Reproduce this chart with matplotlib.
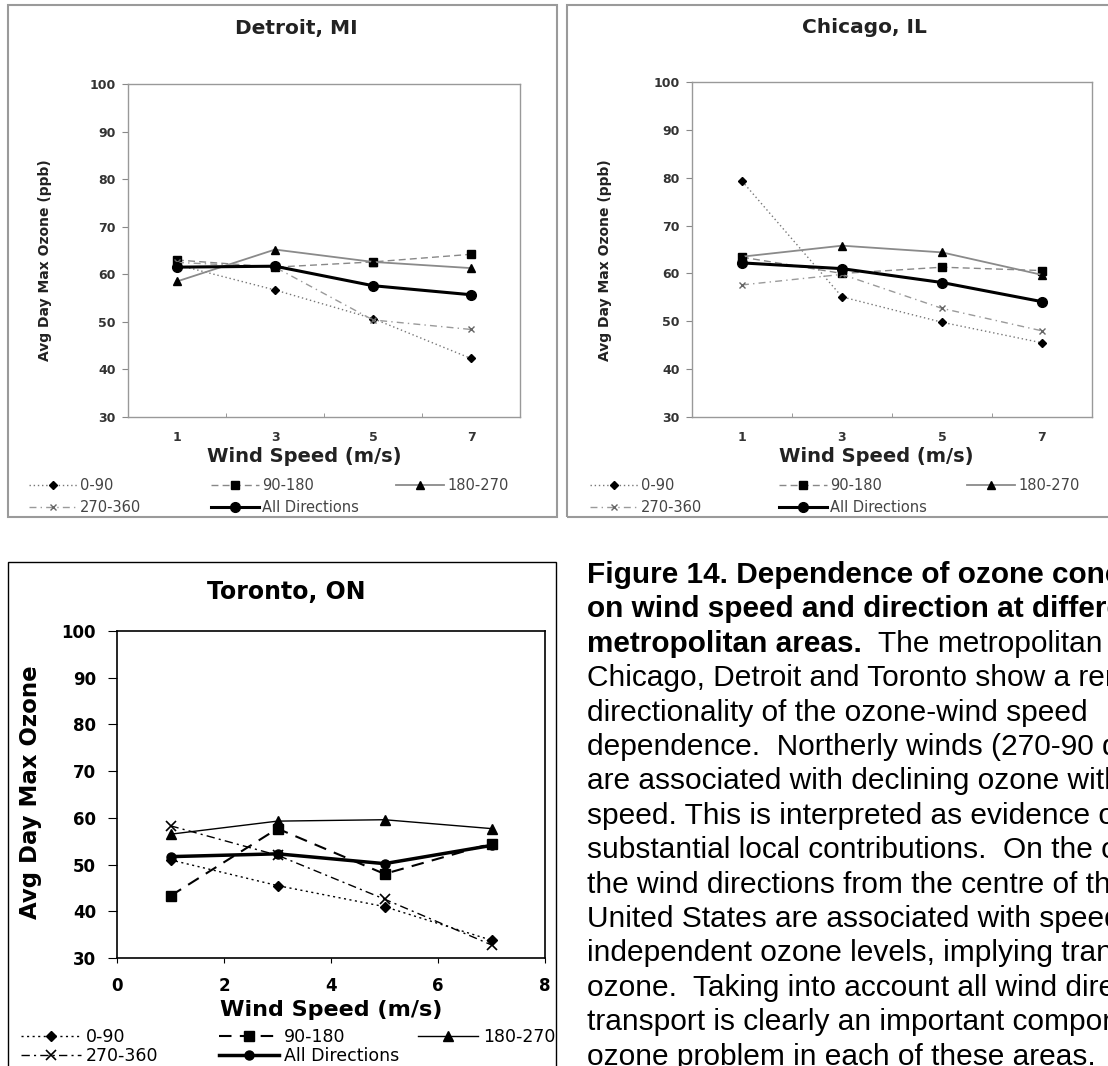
import matplotlib
matplotlib.use('Agg')
import matplotlib.pyplot as plt
from matplotlib.patches import Rectangle

plt.rcParams['font.family'] = 'DejaVu Sans'

# wind speed bins (m/s) and direction sectors
speeds = [1, 3, 5, 7]
directions = ['0-90', '90-180', '180-270', '270-360', 'All Directions']

# Avg day max ozone (ppb)
detroit_0_90 = [62.0, 56.7, 50.7, 42.3]
detroit_90_180 = [63.0, 61.5, 62.6, 64.2]
detroit_180_270 = [58.5, 65.2, 62.6, 61.3]
detroit_270_360 = [62.5, 61.5, 50.4, 48.4]
detroit_all = [61.5, 61.7, 57.6, 55.7]

chicago_0_90 = [79.3, 55.1, 49.8, 45.5]
chicago_90_180 = [63.4, 60.0, 61.3, 60.6]
chicago_180_270 = [63.5, 65.8, 64.4, 59.7]
chicago_270_360 = [57.6, 59.8, 52.7, 48.0]
chicago_all = [62.2, 61.0, 58.1, 54.1]

toronto_0_90 = [51.0, 45.5, 41.0, 33.8]
toronto_90_180 = [43.3, 57.7, 48.0, 54.5]
toronto_180_270 = [56.5, 59.3, 59.6, 57.7]
toronto_270_360 = [58.3, 52.0, 42.6, 32.8]
toronto_all = [51.7, 52.3, 50.2, 54.1]

caption_bold = ["Figure 14. Dependence of ozone conc",
                "on wind speed and direction at differe",
                "metropolitan areas."]
caption_after_bold = "  The metropolitan a"
caption_lines = ["Chicago, Detroit and Toronto show a rem",
                 "directionality of the ozone-wind speed",
                 "dependence.  Northerly winds (270-90 d",
                 "are associated with declining ozone with",
                 "speed. This is interpreted as evidence o",
                 "substantial local contributions.  On the o",
                 "the wind directions from the centre of th",
                 "United States are associated with speed",
                 "independent ozone levels, implying tran",
                 "ozone.  Taking into account all wind dire",
                 "transport is clearly an important compon",
                 "ozone problem in each of these areas."]

W, H = 1108, 1066


def box(left, top, right, bottom):
    return [left / W, 1 - bottom / H, (right - left) / W, (bottom - top) / H]


fig = plt.figure(figsize=(W / 100, H / 100), dpi=100)

# panel frames
fig.add_artist(Rectangle((8 / W, 1 - 517 / H), 549 / W, 512 / H, transform=fig.transFigure,
                         fill=False, ec='#9a9a9a', lw=1.5))
fig.add_artist(Rectangle((567 / W, 1 - 517 / H), 560 / W, 512 / H, transform=fig.transFigure,
                         fill=False, ec='#9a9a9a', lw=1.5))
fig.add_artist(Rectangle((8 / W, 1 - 1080 / H), 548 / W, 518 / H, transform=fig.transFigure,
                         fill=False, ec='k', lw=1))

top_styles = [
    dict(ls=(0, (1, 2)), color='#777777', lw=1, marker='D', ms=4, mfc='k', mec='k'),
    dict(ls=(0, (5, 3)), color='#888888', lw=1, marker='s', ms=5.5, mfc='k', mec='k'),
    dict(ls='-', color='#8a8a8a', lw=1.3, marker='^', ms=5.5, mfc='k', mec='k'),
    dict(ls=(0, (5, 3, 1, 3)), color='#9a9a9a', lw=1, marker='x', ms=5, mec='#666666', mew=1),
    dict(ls='-', color='k', lw=2.2, marker='o', ms=7, mfc='k', mec='k'),
]

tor_styles = [
    dict(ls=(0, (1.5, 2.5)), color='k', lw=1, marker='D', ms=5.5),
    dict(ls=(0, (6, 4)), color='k', lw=1.5, marker='s', ms=6.5),
    dict(ls='-', color='k', lw=1, marker='^', ms=7.5),
    dict(ls=(0, (6, 3, 1.5, 3)), color='k', lw=1, marker='x', ms=7, mew=1.2),
    dict(ls='-', color='k', lw=2.5, marker='o', ms=6.5),
]

col_groups = [[0, 3], [1, 4], [2]]


def add_legends(lines, col_x, top, size, hl, tp, ls, color):
    for x, idx in zip(col_x, col_groups):
        leg = fig.legend([lines[i] for i in idx], [directions[i] for i in idx],
                         loc='upper left', bbox_to_anchor=(x / W, 1 - top / H),
                         frameon=False, borderpad=0, borderaxespad=0,
                         handlelength=hl, handletextpad=tp, labelspacing=ls,
                         fontsize=size)
        for t in leg.get_texts():
            t.set_color(color)


def small_panel(rect, title, series, title_x, title_y, xlab_x, ylab_x, ylab_y, col_x):
    ax = fig.add_axes(rect)
    lines = []
    for vals, st, name in zip(series, top_styles, directions):
        ln, = ax.plot(speeds, vals, label=name, **st)
        lines.append(ln)
    ax.set_xlim(0, 8)
    ax.set_ylim(30, 100)
    ax.set_yticks(range(30, 101, 10))
    ax.set_xticks(speeds)
    ax.set_xticks([2, 4, 6], minor=True)
    ax.tick_params(axis='x', which='major', length=0, pad=10, labelsize=9, labelcolor='#333333')
    ax.tick_params(axis='x', which='minor', direction='in', length=3, color='#888888')
    ax.tick_params(axis='y', direction='out', length=4, pad=5, color='#888888',
                   labelsize=9, labelcolor='#333333')
    for lab in ax.get_xticklabels() + ax.get_yticklabels():
        lab.set_fontweight('bold')
    for sp in ax.spines.values():
        sp.set_color('#999999')
        sp.set_linewidth(1)
    ax.set_title(title, x=title_x, y=title_y, va='center', pad=0, fontsize=14.5,
                 fontweight='bold', color='#222222')
    ax.set_xlabel('Wind Speed (m/s)', fontsize=14, fontweight='bold', color='#222222')
    ax.xaxis.set_label_coords(xlab_x, -0.09)
    ax.set_ylabel('Avg Day Max Ozone (ppb)', fontsize=10, fontweight='bold', color='#222222')
    ax.yaxis.set_label_coords(ylab_x, ylab_y)
    add_legends(lines, col_x, 478, 10.5, 3.3, 0.2, 0.5, '#444444')
    return ax


small_panel(box(128, 84, 520, 417), 'Detroit, MI',
            [detroit_0_90, detroit_90_180, detroit_180_270, detroit_270_360, detroit_all],
            0.43, 1.168, 0.45, -0.194, 0.471, [29, 211, 396])
small_panel(box(692, 82, 1092, 417), 'Chicago, IL',
            [chicago_0_90, chicago_90_180, chicago_180_270, chicago_270_360, chicago_all],
            0.43, 1.164, 0.46, -0.2, 0.469, [590, 779, 967])

# Toronto panel
ax = fig.add_axes(box(117, 631, 545, 958))
tor_series = [toronto_0_90, toronto_90_180, toronto_180_270, toronto_270_360, toronto_all]
tor_lines = []
for vals, st, name in zip(tor_series, tor_styles, directions):
    ln, = ax.plot(speeds, vals, label=name, **st)
    tor_lines.append(ln)
ax.set_xlim(0, 8)
ax.set_ylim(30, 100)
ax.set_xticks(range(0, 9, 2))
ax.set_yticks(range(30, 101, 10))
ax.tick_params(axis='x', direction='out', length=3.5, pad=10, labelsize=12)
ax.tick_params(axis='y', direction='out', length=6.5, pad=8.5, labelsize=12)
for lab in ax.get_xticklabels() + ax.get_yticklabels():
    lab.set_fontweight('bold')
for sp in ax.spines.values():
    sp.set_linewidth(1.2)
ax.set_title('Toronto, ON', x=0.395, y=1.119, va='center', pad=0, fontsize=17, fontweight='bold')
ax.set_xlabel('Wind Speed (m/s)', fontsize=16, fontweight='bold')
ax.xaxis.set_label_coords(0.5, -0.128)
ax.set_ylabel('Avg Day Max Ozone', fontsize=16.5, fontweight='bold')
ax.yaxis.set_label_coords(-0.175, 0.508)
add_legends(tor_lines, [21, 219, 418], 1028, 12.5, 3.45, 0.29, 0.05, 'k')

# caption text (plain Arial-like face)
cap = fig.add_axes([0, 0, 1, 1])
cap.set_xlim(0, W)
cap.set_ylim(H, 0)
cap.axis('off')
cap.set_zorder(-1)
cap_font = 'Liberation Sans'
y0, pitch = 575, 34.4
last = None
for i, s in enumerate(caption_bold):
    last = cap.text(587, y0 + pitch * i, s, fontsize=21.4, fontweight='bold',
                    family=cap_font, va='center', ha='left')
cap.annotate(caption_after_bold, xy=(1, 0), xycoords=last, va='bottom', ha='left',
             fontsize=21.5, family=cap_font)
for i, s in enumerate(caption_lines):
    cap.text(587, y0 + pitch * (i + 3), s, fontsize=21.5, family=cap_font,
             va='center', ha='left')

fig.savefig('out.png', dpi=100)
